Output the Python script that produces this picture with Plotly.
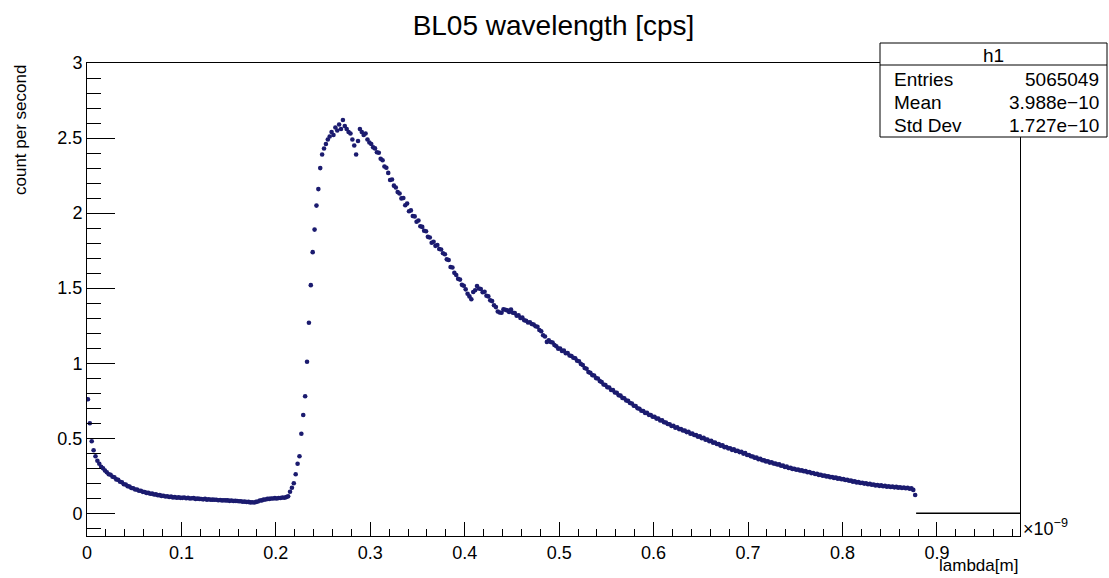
import numpy as np
import plotly.graph_objects as go

# ---- data (x in units of 1e-9 m, bin width 0.002) ----
BIN_W = 0.002
X_MAX = 0.988

cps_low = [0.760, 0.600, 0.480, 0.420, 0.380, 0.350, 0.330, 0.310, 0.300, 0.285]
cps_tail = [
    0.274, 0.260, 0.257, 0.244, 0.240, 0.226, 0.223, 0.210, 0.207, 0.194,
    0.192, 0.181, 0.178, 0.169, 0.167, 0.159, 0.158, 0.150, 0.150, 0.143,
    0.142, 0.136, 0.136, 0.130, 0.131, 0.125, 0.126, 0.120, 0.121, 0.116,
    0.117, 0.112, 0.114, 0.109, 0.111, 0.106, 0.108, 0.104, 0.106, 0.103,
]
cps_flat = [
    0.103, 0.105, 0.100, 0.103, 0.099, 0.100, 0.101, 0.096, 0.098, 0.096,
    0.095, 0.093, 0.096, 0.091, 0.094, 0.090, 0.091, 0.090, 0.090, 0.087,
    0.089, 0.086, 0.087, 0.086, 0.086, 0.083, 0.085, 0.082, 0.083, 0.082,
    0.080, 0.080, 0.077, 0.078, 0.075, 0.076, 0.073, 0.074, 0.072, 0.076,
    0.079, 0.085, 0.086, 0.091, 0.092, 0.096, 0.096, 0.099, 0.099, 0.101,
    0.099, 0.102, 0.102, 0.105, 0.104, 0.108, 0.113,
]
cps_rise = [0.144, 0.170, 0.200, 0.260, 0.330, 0.380, 0.530, 0.655, 0.780,
            1.010, 1.270, 1.520, 1.740, 1.890, 2.050, 2.160, 2.300, 2.390]
cps_peak = [2.430, 2.460, 2.490, 2.510, 2.540, 2.520, 2.570, 2.550, 2.590, 2.560,
            2.620, 2.580, 2.560, 2.540, 2.530, 2.490, 2.450, 2.390, 2.480, 2.560,
            2.540, 2.520, 2.530, 2.490, 2.470]
cps_030 = [
    2.460, 2.438, 2.431, 2.405, 2.402, 2.362, 2.352, 2.311, 2.302, 2.268,
    2.221, 2.224, 2.183, 2.171, 2.140, 2.131, 2.098, 2.101, 2.052, 2.064,
    2.012, 2.018, 1.981, 1.978, 1.942, 1.951, 1.912, 1.908, 1.882, 1.879,
    1.842, 1.838, 1.803, 1.809, 1.782, 1.788, 1.761, 1.758, 1.733, 1.726,
    1.692, 1.688, 1.641, 1.638, 1.602, 1.588, 1.562, 1.557, 1.522, 1.516,
]
cps_040 = [
    1.492, 1.463, 1.445, 1.426, 1.474, 1.486, 1.514, 1.498, 1.494, 1.473,
    1.476, 1.449, 1.445, 1.419, 1.414, 1.386, 1.374, 1.345, 1.338, 1.336,
    1.359, 1.356, 1.352, 1.341, 1.358, 1.336, 1.334, 1.316, 1.319, 1.301,
    1.304, 1.286, 1.283, 1.271, 1.273, 1.261, 1.258, 1.246, 1.243, 1.221,
    1.213, 1.186, 1.178, 1.142, 1.152, 1.141, 1.138, 1.121, 1.113, 1.097,
]
cps_050 = [
    1.098, 1.082, 1.084, 1.066, 1.068, 1.051, 1.048, 1.036, 1.033, 1.016,
    1.013, 0.995, 0.988, 0.968, 0.963, 0.941, 0.936, 0.921, 0.918, 0.901,
    0.898, 0.881, 0.875, 0.858, 0.855, 0.840, 0.838, 0.822, 0.821, 0.805,
    0.803, 0.787, 0.784, 0.769, 0.767, 0.752, 0.749, 0.735, 0.732, 0.717,
    0.715, 0.700, 0.697, 0.683, 0.682, 0.669, 0.669, 0.656, 0.655, 0.643,
]
cps_060 = [
    0.643, 0.631, 0.632, 0.618, 0.620, 0.607, 0.605, 0.595, 0.593, 0.582,
    0.583, 0.570, 0.573, 0.561, 0.561, 0.552, 0.551, 0.541, 0.543, 0.530,
    0.532, 0.522, 0.521, 0.511, 0.513, 0.500, 0.503, 0.491, 0.492, 0.480,
    0.483, 0.471, 0.472, 0.462, 0.461, 0.451, 0.453, 0.441, 0.442, 0.433,
    0.434, 0.423, 0.426, 0.416, 0.417, 0.408, 0.410, 0.398, 0.401, 0.389,
]
cps_070 = [
    0.389, 0.380, 0.379, 0.370, 0.371, 0.361, 0.363, 0.354, 0.353, 0.346,
    0.347, 0.338, 0.340, 0.332, 0.331, 0.325, 0.326, 0.317, 0.318, 0.309,
    0.311, 0.302, 0.303, 0.296, 0.297, 0.290, 0.292, 0.285, 0.286, 0.280,
    0.281, 0.274, 0.275, 0.268, 0.269, 0.262, 0.263, 0.256, 0.257, 0.250,
    0.252, 0.246, 0.247, 0.241, 0.242, 0.236, 0.238, 0.231, 0.233, 0.227,
]
cps_080 = [
    0.228, 0.222, 0.223, 0.217, 0.218, 0.211, 0.213, 0.206, 0.208, 0.202,
    0.204, 0.198, 0.200, 0.194, 0.196, 0.190, 0.192, 0.186, 0.189, 0.183,
    0.186, 0.180, 0.183, 0.177, 0.180, 0.175, 0.178, 0.173, 0.176, 0.171,
    0.174, 0.169, 0.172, 0.167, 0.170, 0.164, 0.166, 0.156, 0.122,
]

x_ticks = [0, 0.1, 0.2, 0.3, 0.4, 0.5, 0.6, 0.7, 0.8, 0.9]
y_ticks = [0, 0.5, 1, 1.5, 2, 2.5, 3]

stats_name = "h1"
stats_labels = ["Entries", "Mean", "Std Dev"]
stats_values = ["5065049", "3.988e\u221210", "1.727e\u221210"]

cps = (cps_low + cps_tail + cps_flat + cps_rise + cps_peak + cps_030 + cps_040
       + cps_050 + cps_060 + cps_070 + cps_080)
n = len(cps)
x = (np.arange(n) + 0.5) * BIN_W
last_edge = n * BIN_W

FONT = "Liberation Sans, Arial, Helvetica, sans-serif"
NAVY = "#1b1b6f"

fig = go.Figure()
fig.add_trace(go.Scatter(
    x=x, y=cps, mode="markers",
    marker=dict(size=4.6, color=NAVY, line=dict(width=0)),
    showlegend=False, hoverinfo="x+y"))
# empty bins drawn at zero
fig.add_trace(go.Scatter(
    x=[last_edge, X_MAX], y=[0, 0], mode="lines",
    line=dict(color="black", width=1.5), showlegend=False, hoverinfo="skip"))

W, H = 1109, 578
ML, MR, MT, MB = 87, 89, 63, 42
PW, PH = W - ML - MR, H - MT - MB


def px(xp):
    return (xp - ML) / PW


def py(yp):
    return (H - MB - yp) / PH


axis_common = dict(
    showgrid=False, zeroline=False, showline=True, linecolor="black",
    linewidth=1, mirror=True, ticks="inside", tickcolor="black", tickwidth=1,
    tickfont=dict(family=FONT, size=18, color="black"), automargin=False,
)

fig.update_layout(
    width=W, height=H,
    margin=dict(l=ML, r=MR, t=MT, b=MB, pad=0, autoexpand=False),
    paper_bgcolor="white", plot_bgcolor="white",
    title=dict(text="BL05 wavelength [cps]", x=0.5, xref="paper", xanchor="center",
               y=1 - 25 / H, yanchor="middle",
               font=dict(family=FONT, size=28, color="black")),
    xaxis=dict(range=[0, X_MAX], tickvals=x_ticks, ticklen=14,
               minor=dict(dtick=0.02, tick0=0, ticklen=7, ticks="inside",
                          tickcolor="black", tickwidth=1),
               **axis_common),
    yaxis=dict(range=[-0.151, 3.0], tickvals=y_ticks, ticklen=28,
               minor=dict(dtick=0.1, tick0=0, ticklen=14, ticks="inside",
                          tickcolor="black", tickwidth=1),
               **axis_common),
)

annots = [
    dict(text="count per second", x=px(20), y=1.0, xref="paper", yref="paper",
         textangle=-90, xanchor="center", yanchor="top", showarrow=False,
         font=dict(family=FONT, size=17, color="black")),
    dict(text="lambda[m]", x=1.0, y=py(577), xref="paper", yref="paper",
         xanchor="right", yanchor="bottom", showarrow=False,
         font=dict(family=FONT, size=17, color="black")),
    dict(text="\u00d710<sup>\u22129</sup>", x=px(1021), y=py(527), xref="paper",
         yref="paper", xanchor="left", yanchor="middle", showarrow=False,
         font=dict(family=FONT, size=18, color="black")),
    dict(text=stats_name, x=(px(880) + px(1107)) / 2, y=py(55), xref="paper",
         yref="paper", xanchor="center", yanchor="middle", showarrow=False,
         font=dict(family=FONT, size=19, color="black")),
]
row_y = [79, 102.5, 126]
for lab, val, yy in zip(stats_labels, stats_values, row_y):
    annots.append(dict(text=lab, x=px(892), y=py(yy), xref="paper", yref="paper",
                       xanchor="left", yanchor="middle", showarrow=False,
                       font=dict(family=FONT, size=19, color="black")))
    annots.append(dict(text=val, x=px(1101), y=py(yy), xref="paper", yref="paper",
                       xanchor="right", yanchor="middle", showarrow=False,
                       font=dict(family=FONT, size=19, color="black")))
fig.update_layout(annotations=annots)

fig.add_shape(type="rect", xref="paper", yref="paper",
              x0=px(880), x1=px(1107), y0=py(137), y1=py(43),
              line=dict(color="black", width=1), fillcolor="white", layer="above")
fig.add_shape(type="line", xref="paper", yref="paper",
              x0=px(880), x1=px(1107), y0=py(65), y1=py(65),
              line=dict(color="black", width=1), layer="above")

fig.write_html("out.html",
               config={"displayModeBar": False},
               post_script="document.body.style.margin='0';"
                           "document.body.style.overflow='hidden';")
